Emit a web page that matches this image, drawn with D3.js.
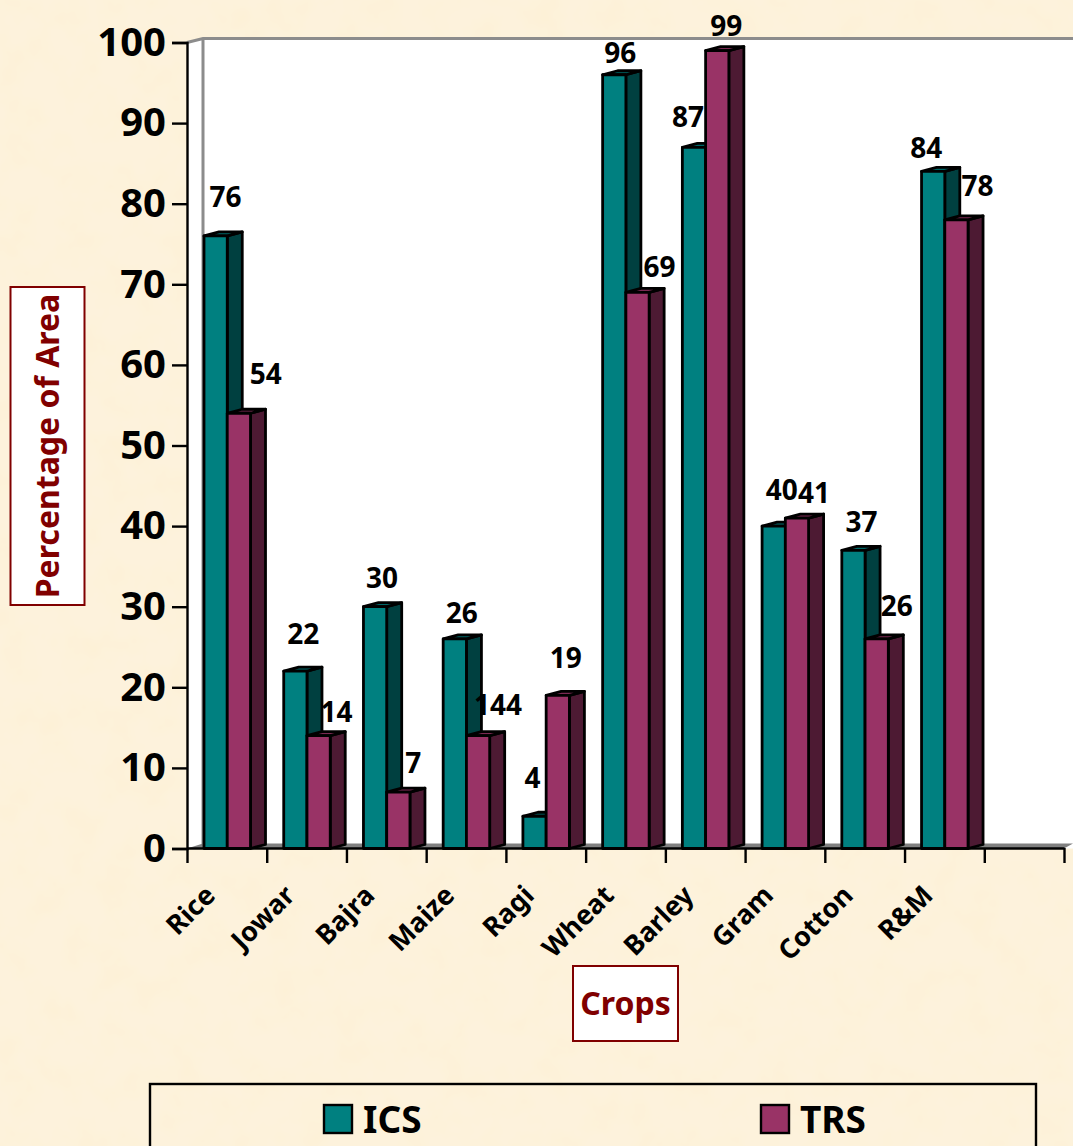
<!DOCTYPE html>
<html>
<head>
<meta charset="utf-8">
<script src="https://cdn.jsdelivr.net/npm/d3@7"></script>
<style>
  html, body { margin: 0; padding: 0; background: #fcf0d8; overflow: hidden; }
  text { font-family: "Noto Sans", sans-serif; font-weight: 700; fill: #000; }
</style>
</head>
<body>
<div id="chart"></div>
<script>
// values
var crops = ["Rice", "Jowar", "Bajra", "Maize", "Ragi", "Wheat", "Barley", "Gram", "Cotton", "R&M"];
var icsValues = [76, 22, 30, 26, 4, 96, 87, 40, 37, 84];
var trsValues = [54, 14, 7, 14, 19, 69, 99, 41, 26, 78];
var yTicks = [0, 10, 20, 30, 40, 50, 60, 70, 80, 90, 100];
// the Maize/TRS label really does read 144 in the original
var trsLabels = ["54", "14", "7", "144", "19", "69", "99", "41", "26", "78"];
var seriesNames = ["ICS", "TRS"];

var svgWidth = 1073, svgHeight = 1146;
var colors = {
  ICS: { front: "#008080", side: "#004040", top: "#006666" },
  TRS: { front: "#993366", side: "#4d1a33", top: "#7a2952" }
};
var depthX = 15, depthY = 4;   // the fake 3d offset

var svg = d3.select("#chart").append("svg")
  .attr("width", svgWidth)
  .attr("height", svgHeight)
  .style("display", "block");

// parchment background
var defs = svg.append("defs");
var paper = defs.append("filter").attr("id", "paper")
  .attr("x", 0).attr("y", 0).attr("width", "100%").attr("height", "100%");
paper.append("feTurbulence")
  .attr("type", "fractalNoise").attr("baseFrequency", "0.03")
  .attr("numOctaves", 3).attr("seed", 7);
paper.append("feColorMatrix").attr("type", "matrix")
  .attr("values", "0 0 0 0 0.98  0 0 0 0 0.88  0 0 0 0 0.68  2.2 0 0 0 -0.9");
svg.append("rect").attr("width", svgWidth).attr("height", svgHeight).attr("fill", "#fdf2dc");
svg.append("rect").attr("width", svgWidth).attr("height", svgHeight).attr("filter", "url(#paper)");

// scales
var yScale = d3.scaleLinear().domain([0, 100]).range([848.5, 42.5]);
var slots = crops.concat([""]);   // one empty slot after R&M
var xScale = d3.scaleBand().domain(slots).range([187, 1064]);
var barScale = d3.scaleBand().domain(seriesNames).range([17, 63.5]);
var edgeScale = d3.scalePoint().domain(d3.range(slots.length + 1)).range([187, 1064]);

// walls
var wallLeft = 187, wallRight = 1073;
svg.append("path")
  .attr("d", "M" + wallLeft + "," + yScale(100) + "L" + (wallLeft + 16) + "," + (yScale(100) - depthY)
    + "L" + wallRight + "," + (yScale(100) - depthY) + "L" + wallRight + "," + yScale(0) + "L" + wallLeft + "," + yScale(0) + "Z")
  .attr("fill", "#fff");
svg.append("path")
  .attr("d", "M" + wallLeft + "," + yScale(0) + "L" + (wallLeft + 16) + "," + (yScale(0) - 5)
    + "L" + wallRight + "," + (yScale(0) - 5) + "L" + (wallRight - 9) + "," + yScale(0) + "Z")
  .attr("fill", "#808080");
svg.append("path")
  .attr("d", "M" + wallLeft + "," + yScale(100) + "L" + (wallLeft + 16) + "," + (yScale(100) - depthY)
    + "L" + wallRight + "," + (yScale(100) - depthY)
    + "M" + (wallLeft + 16) + "," + (yScale(100) - depthY) + "L" + (wallLeft + 16) + "," + (yScale(0) - depthY))
  .attr("fill", "none")
  .attr("stroke", "#8c8c8c")
  .attr("stroke-width", 3);

// bars, drawn slot by slot so each one covers its neighbour's side
var barData = [];
crops.forEach(function(crop, i) {
  barData.push({ crop: crop, series: "ICS", value: icsValues[i] });
  barData.push({ crop: crop, series: "TRS", value: trsValues[i] });
});

var bars = svg.append("g").selectAll("g")
  .data(barData)
  .enter()
  .append("g")
  .attr("stroke", "#000")
  .attr("stroke-width", 2.8)
  .attr("stroke-linejoin", "round");

function barLeft(d) { return xScale(d.crop) + barScale(d.series); }

bars.append("path")
  .attr("fill", function(d) { return colors[d.series].side; })
  .attr("d", function(d) {
    var x = barLeft(d) + barScale.bandwidth(), top = yScale(d.value), bottom = yScale(0);
    return "M" + x + "," + top + "l" + depthX + "," + (-depthY) + "L" + (x + depthX) + "," + (bottom - depthY) + "L" + x + "," + bottom + "Z";
  });
bars.append("path")
  .attr("fill", function(d) { return colors[d.series].top; })
  .attr("d", function(d) {
    var x = barLeft(d), top = yScale(d.value), w = barScale.bandwidth();
    return "M" + x + "," + top + "l" + depthX + "," + (-depthY) + "l" + w + ",0l" + (-depthX) + "," + depthY + "Z";
  });
bars.append("rect")
  .attr("fill", function(d) { return colors[d.series].front; })
  .attr("x", barLeft)
  .attr("y", function(d) { return yScale(d.value); })
  .attr("width", barScale.bandwidth())
  .attr("height", function(d) { return yScale(0) - yScale(d.value); });

// axes
var yAxis = d3.axisLeft(yScale).tickValues(yTicks).tickSize(15).tickPadding(6);
var yAxisGroup = svg.append("g").attr("transform", "translate(187,0)").call(yAxis);
yAxisGroup.select(".domain").attr("stroke", "#000").attr("stroke-width", 2.4);
yAxisGroup.selectAll("line").attr("stroke", "#000").attr("stroke-width", 2.4);
yAxisGroup.selectAll("text").style("font-size", "40px");
yAxisGroup.attr("font-family", null);

var xAxis = d3.axisBottom(edgeScale).tickFormat("").tickSize(15).tickSizeOuter(0);
var xAxisGroup = svg.append("g").attr("transform", "translate(0,848)").call(xAxis);
xAxisGroup.select(".domain").attr("stroke", "#000").attr("stroke-width", 2.4);
xAxisGroup.selectAll("line").attr("stroke", "#000").attr("stroke-width", 2.4);

// crop names, rotated
svg.append("g").selectAll("text")
  .data(crops)
  .enter()
  .append("text")
  .attr("text-anchor", "end")
  .attr("transform", function(d) {
    return "translate(" + (xScale(d) + xScale.bandwidth() / 2 - 10) + ",897) rotate(-45)";
  })
  .style("font-size", "27px")
  .text(function(d) { return d; });

// data labels were hand placed in the original, so nudge each one
var icsNudge = [[10, -39], [8, -37], [7, -29], [7, -26], [-2, -38], [6, -22], [-6, -30], [8, -36], [8, -28], [-7, -24]];
var trsNudge = [[27, -39], [18, -24], [15, -29], [20, -31], [8, -37], [22, -25], [9, -25], [17, -25], [20, -33], [21, -34]];

function addLabels(series, labels, values, nudge) {
  svg.append("g").selectAll("text")
    .data(labels)
    .enter()
    .append("text")
    .attr("text-anchor", "middle")
    .attr("dy", "0.36em")
    .attr("x", function(d, i) {
      return xScale(crops[i]) + barScale(series) + barScale.bandwidth() / 2 + nudge[i][0];
    })
    .attr("y", function(d, i) { return yScale(values[i]) + nudge[i][1]; })
    .style("font-size", "28px")
    .text(function(d) { return d; });
}
addLabels("ICS", icsValues.map(String), icsValues, icsNudge);
addLabels("TRS", trsLabels, trsValues, trsNudge);

// axis title boxes
var titleColor = "#800000";
svg.append("rect").attr("x", 10.5).attr("y", 287).attr("width", 74).attr("height", 318)
  .attr("fill", "#fff").attr("stroke", titleColor).attr("stroke-width", 2);
svg.append("text")
  .attr("text-anchor", "middle")
  .attr("transform", "translate(59,446) rotate(-90)")
  .style("font-size", "32px")
  .style("fill", titleColor)
  .text("Percentage of Area");

svg.append("rect").attr("x", 573).attr("y", 966).attr("width", 105).attr("height", 75)
  .attr("fill", "#fff").attr("stroke", titleColor).attr("stroke-width", 2);
svg.append("text")
  .attr("text-anchor", "middle")
  .attr("x", 625.5).attr("y", 1015)
  .style("font-size", "32px")
  .style("fill", titleColor)
  .text("Crops");

// legend, cut off by the bottom of the picture
svg.append("rect").attr("x", 150).attr("y", 1084).attr("width", 886).attr("height", 100)
  .attr("fill", "none").attr("stroke", "#000").attr("stroke-width", 2.4);

var legendX = d3.scaleOrdinal().domain(seriesNames).range([324, 761]);
var legend = svg.append("g").selectAll("g")
  .data(seriesNames)
  .enter()
  .append("g")
  .attr("transform", function(d) { return "translate(" + legendX(d) + ",1105)"; });
legend.append("rect")
  .attr("width", 28).attr("height", 28)
  .attr("fill", function(d) { return colors[d].front; })
  .attr("stroke", "#000").attr("stroke-width", 2.4);
legend.append("text")
  .attr("x", 39).attr("y", 28)
  .style("font-size", "37px")
  .text(function(d) { return d; });
</script>
</body>
</html>
